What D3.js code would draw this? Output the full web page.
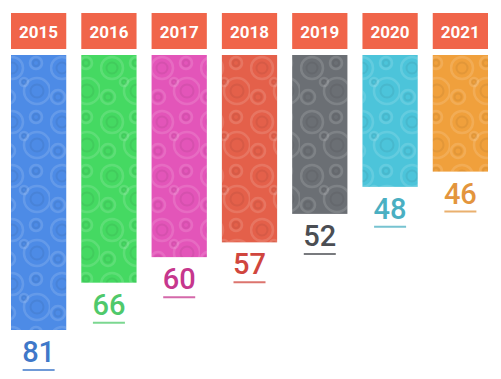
<!DOCTYPE html>
<html>
<head>
<meta charset="utf-8">
<script src="https://cdn.jsdelivr.net/npm/d3@7"></script>
<style>
  body { margin: 0; background: #fff; }
  svg { display: block; }
</style>
</head>
<body>
<div class="chart"></div>
<script>
const years = ['2015', '2016', '2017', '2018', '2019', '2020', '2021'];
const values = [81, 66, 60, 57, 52, 48, 46];
const barColors = ['#4d8be6', '#45d962', '#e355b9', '#e4604a', '#6b6f74', '#4cc4da', '#f0a03c'];
const textColors = ['#3f78c9', '#4fc96b', '#c6378d', '#d0463e', '#4b4e53', '#4aafc2', '#e3953d'];

const width = 501;
const height = 379;
const barTop = 55;

const svg = d3.select('.chart')
    .append('svg')
    .attr('width', width)
    .attr('height', height);

const x = d3.scaleBand()
    .domain(years)
    .range([11, 488])
    .paddingInner(0.214)
    .paddingOuter(0);

// the infographic is not drawn to scale, a reciprocal pow scale follows it closest
const y = d3.scalePow()
    .exponent(-1)
    .domain([34.9, 81])
    .range([barTop, 330]);

const data = years.map((d, i) => ({year: d, value: values[i], bar: barColors[i], text: textColors[i]}));

// soft gear-ish texture on the bars
const defs = svg.append('defs');
const pat = defs.append('pattern')
    .attr('id', 'gears')
    .attr('patternUnits', 'userSpaceOnUse')
    .attr('width', 50)
    .attr('height', 54);
const rings = [[12, 14, 11], [37, 37, 13], [36, 9, 6], [8, 43, 7], [24, 28, 4]];
rings.forEach(r => {
    pat.append('circle')
        .attr('cx', r[0]).attr('cy', r[1]).attr('r', r[2])
        .attr('fill', 'none')
        .attr('stroke', '#fff')
        .attr('stroke-opacity', 0.13)
        .attr('stroke-width', 2.5);
    pat.append('circle')
        .attr('cx', r[0]).attr('cy', r[1]).attr('r', r[2] * 0.5)
        .attr('fill', 'none')
        .attr('stroke', '#000')
        .attr('stroke-opacity', 0.06)
        .attr('stroke-width', 2);
});

svg.selectAll('rect.head')
    .data(data)
    .enter()
    .append('rect')
    .attr('class', 'head')
    .attr('x', d => x(d.year))
    .attr('y', 13)
    .attr('width', x.bandwidth())
    .attr('height', 36)
    .attr('fill', '#f0654a');

svg.selectAll('text.year')
    .data(data)
    .enter()
    .append('text')
    .attr('class', 'year')
    .attr('x', d => x(d.year) + x.bandwidth() / 2)
    .attr('y', 38)
    .attr('text-anchor', 'middle')
    .attr('font-family', 'Roboto, sans-serif')
    .attr('font-weight', 'bold')
    .attr('font-size', 17)
    .attr('fill', '#fff')
    .text(d => d.year);

svg.selectAll('rect.bar')
    .data(data)
    .enter()
    .append('rect')
    .attr('class', 'bar')
    .attr('x', d => x(d.year))
    .attr('y', barTop)
    .attr('width', x.bandwidth())
    .attr('height', d => y(d.value) - barTop)
    .attr('fill', d => d.bar);

svg.selectAll('rect.tex')
    .data(data)
    .enter()
    .append('rect')
    .attr('class', 'tex')
    .attr('x', d => x(d.year))
    .attr('y', barTop)
    .attr('width', x.bandwidth())
    .attr('height', d => y(d.value) - barTop)
    .attr('fill', 'url(#gears)');

svg.selectAll('text.val')
    .data(data)
    .enter()
    .append('text')
    .attr('class', 'val')
    .attr('x', d => x(d.year) + x.bandwidth() / 2)
    .attr('y', d => y(d.value) + 32)
    .attr('text-anchor', 'middle')
    .attr('font-family', 'Roboto, sans-serif')
    .attr('font-weight', 500)
    .attr('font-size', 29)
    .attr('fill', d => d.text)
    .text(d => d.value);

svg.selectAll('line.under')
    .data(data)
    .enter()
    .append('line')
    .attr('class', 'under')
    .attr('x1', d => x(d.year) + x.bandwidth() / 2 - 16)
    .attr('x2', d => x(d.year) + x.bandwidth() / 2 + 16)
    .attr('y1', d => y(d.value) + 40)
    .attr('y2', d => y(d.value) + 40)
    .attr('stroke', d => d.text)
    .attr('stroke-opacity', 0.75)
    .attr('stroke-width', 2);
</script>
</body>
</html>
